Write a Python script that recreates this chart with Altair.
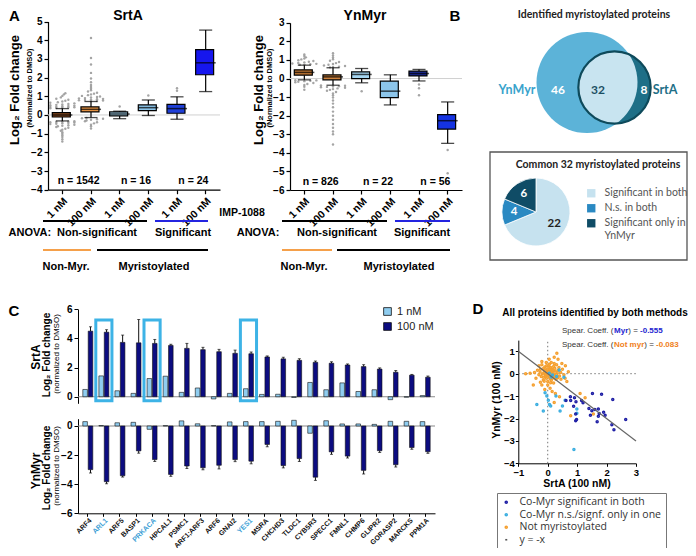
import math
import altair as alt
import numpy as np
import pandas as pd

W, H = 680, 540


def P(v):
    # page pixel -> plot pixel (8px page margin, zero padding)
    return float(v) - 8.0


ARIAL = "Liberation Sans"
CALIB = "Lato"
OPENS = "Open Sans"
ONE = alt.Data(values=[{"k": 0}])

# ======================= DATA =======================
# ---- Panel A: box statistics (Log2 fold change, normalised to DMSO)
A_GROUPS = ["nm1|1 nM", "nm100|100 nM", "mn1|1 nM", "mn100|100 nM", "ms1|1 nM", "ms100|100 nM"]

SRTA_Q1 = [-0.11, 0.16, -0.05, 0.23, 0.09, 2.15]
SRTA_MED = [0.00, 0.30, 0.05, 0.39, 0.34, 2.79]
SRTA_Q3 = [0.12, 0.43, 0.16, 0.54, 0.57, 3.49]
SRTA_LO = [-0.32, -0.14, -0.20, -0.03, -0.23, 1.25]
SRTA_HI = [0.34, 0.72, 0.20, 0.80, 0.97, 4.54]
SRTA_N = [1542, 16, 24]
SRTA_OUT_NM1 = [0.36, 0.37, 0.38, 0.40, 0.41, 0.43, 0.44, 0.46, 0.48, 0.50, 0.52, 0.54, 0.56, 0.59,
                0.62, 0.65, 0.68, 0.72, 0.76, 0.81, 0.87, 0.94, 1.02, 1.10, 1.16,
                -0.34, -0.35, -0.36, -0.38, -0.39, -0.41, -0.43, -0.45, -0.47, -0.49, -0.52, -0.55,
                -0.58, -0.61, -0.65, -0.69, -0.74, -0.79, -0.85, -0.92, -1.00, -1.08, -1.18, -1.30, -1.42]
SRTA_OUT_NM100 = [0.74, 0.75, 0.77, 0.78, 0.80, 0.82, 0.84, 0.86, 0.88, 0.90, 0.93, 0.96, 0.99, 1.02,
                  1.06, 1.10, 1.14, 1.19, 1.25, 1.32, 1.40, 1.50, 1.60, 1.75, 1.95, 2.25, 2.70, 3.05, 4.12,
                  -0.16, -0.18, -0.20, -0.23, -0.26, -0.30, -0.34, -0.39, -0.45, -0.52, -0.60, -0.72]
SRTA_OUT_MN1 = [0.45]
SRTA_OUT_MN100 = [1.04]
SRTA_OUT_MS1 = [1.29, 1.43]
SRTA_OUT_MS100 = []

YN_Q1 = [0.18, -0.07, 0.00, -1.03, 0.14, -2.72]
YN_MED = [0.33, 0.09, 0.22, -0.68, 0.27, -2.27]
YN_Q3 = [0.47, 0.20, 0.36, -0.14, 0.40, -1.94]
YN_LO = [-0.07, -0.36, -0.23, -1.42, -0.13, -3.49]
YN_HI = [0.72, 0.58, 0.54, 0.20, 0.49, -1.26]
YN_N = [826, 22, 56]
YN_OUT_NM1 = [0.74, 0.75, 0.77, 0.79, 0.81, 0.84, 0.87, 0.90, 0.94, 0.98, 1.03, 1.08, 1.14, 1.21, 1.30,
              -0.09, -0.10, -0.12, -0.14, -0.17, -0.20, -0.24, -0.29, -0.35, -0.44, -0.60]
YN_OUT_NM100 = [0.60, 0.62, 0.64, 0.67, 0.70, 0.74, 0.78, 0.83, 0.89, 0.96, 1.04, 1.13, 1.24, 1.36,
                -0.38, -0.39, -0.41, -0.43, -0.45, -0.47, -0.50, -0.53, -0.57, -0.61, -0.66, -0.72,
                -0.80, -0.90, -1.02, -1.18, -1.35, -1.55, -1.78, -2.00, -2.22, -2.45, -2.65, -2.85,
                -3.00, -3.55]
YN_OUT_MN1 = [-0.68]
YN_OUT_MN100 = []
YN_OUT_MS1 = [-0.32, -0.52, -0.90]
YN_OUT_MS100 = [-3.85, -5.10]

SRTA_BOX_COLORS = ["#8a4b1f", "#f29a46", "#a6d6f1", "#8cc5ea", "#1f3fd8", "#1616ee"]
YN_BOX_COLORS = ["#c47a36", "#cd823d", "#a6d6f1", "#8cc5ea", "#1b2b9c", "#1533e2"]

# ---- Panel B
VENN_YN_ONLY, VENN_BOTH, VENN_SRTA_ONLY = 46, 32, 8
PIE_CATS = ["Significant in both", "N.s. in both", "Significant only in YnMyr"]
PIE_N = [22, 4, 6]

# ---- Panel C
GENES = ["ARF4", "ARL1", "ARF5", "BASP1", "PRKACA", "HPCAL1", "PSMC1", "ARF1;ARF3", "ARF6", "GNAI2",
         "YES1", "MSRA", "CHCHD3", "TLDC1", "CYB5R3", "SPECC1", "FMNL1", "CHMP6", "GLIPR2", "GORASP2",
         "MARCKS", "PPM1A"]
HIGHLIGHT = ["ARL1", "PRKACA", "YES1"]
DOSES = ["1 nM", "100 nM"]
C_SRTA_1 = [0.50, 1.43, 0.41, 0.23, 1.25, 1.41, 0.30, 0.60, -0.15, 0.23, 0.55, 0.16, 0.17, -0.05,
            0.98, 0.48, 0.95, 0.36, 0.48, -0.20, -0.03, 0.08]
C_SRTA_100 = [4.50, 4.43, 3.73, 3.70, 3.66, 3.52, 3.32, 3.23, 3.09, 2.98, 2.95, 2.73, 2.60, 2.50,
              2.36, 2.30, 2.18, 2.07, 1.90, 1.68, 1.48, 1.34]
C_SRTA_SEM = [0.30, 0.17, 0.50, 1.60, 0.27, 0.08, 0.34, 0.16, 0.16, 0.22, 0.12, 0.07, 0.11, 0.11,
              0.09, 0.10, 0.07, 0.13, 0.08, 0.12, 0.05, 0.08]
C_YN_1 = [0.30, 0.03, 0.22, 0.25, -0.23, 0.02, 0.35, 0.15, 0.02, 0.28, 0.30, 0.30, 0.32, 0.39,
          -0.50, 0.36, 0.14, 0.14, 0.11, 0.32, 0.32, 0.30]
C_YN_100 = [-3.00, -3.83, -3.42, -1.71, -2.31, -3.33, -2.75, -2.87, -2.70, -2.31, -2.42, -1.27,
            -2.72, -2.24, -3.52, -1.78, -2.07, -3.05, -1.70, -2.66, -1.48, -1.77]
C_YN_SEM = [0.23, 0.14, 0.09, 0.16, 0.13, 0.13, 0.17, 0.14, 0.25, 0.14, 0.18, 0.16, 0.16, 0.20,
            0.22, 0.17, 0.13, 0.25, 0.12, 0.16, 0.12, 0.11]

# ---- Panel D (SrtA 100 nM vs YnMyr 100 nM)
D_GROUPS = ["Co-Myr significant in both", "Co-Myr n.s./signf. only in one", "Not myristoylated", "y = -x"]
SIG_PTS = [(1.52, -0.88), (1.83, -0.92), (2.21, -1.15), (0.77, -1.03), (0.91, -1.07), (0.62, -1.20),
           (0.78, -1.20), (0.96, -1.25), (1.15, -1.20), (0.95, -1.80), (0.98, -2.05), (0.95, -2.10),
           (1.40, -1.55), (1.50, -1.65), (1.60, -1.60), (1.72, -1.58), (1.45, -1.85), (1.75, -1.78),
           (1.90, -1.72), (1.95, -1.85), (1.72, -1.90), (1.68, -2.15), (2.18, -2.28), (2.25, -2.50),
           (2.65, -2.05), (1.20, -1.30), (0.88, -1.45)]
NS_PTS = [(-0.37, -1.37), (-0.15, -1.67), (-0.09, -0.85), (-0.03, -1.00), (0.02, -1.18), (0.06, -1.37),
          (0.10, -1.44), (0.28, -1.00), (0.42, -1.67), (0.50, -1.44), (0.55, -0.16), (0.39, 0.16),
          (0.99, -1.58), (0.99, -1.77), (0.89, -3.38), (0.16, -0.06), (0.59, -1.18), (0.05, 0.02),
          (0.30, -0.12), (0.12, -0.15)]
NOTMYR_PTS = [(-0.02, 0.05), (0.03, -0.02), (0.08, 0.10), (-0.08, -0.06), (0.12, -0.08), (0.00, 0.18),
              (-0.12, 0.12), (0.18, 0.04), (0.05, -0.15), (-0.05, -0.20), (0.15, 0.20), (-0.18, 0.00),
              (0.22, -0.12), (0.10, 0.28), (-0.10, 0.30), (0.25, 0.12), (-0.22, -0.12), (0.02, 0.35),
              (0.30, -0.02), (-0.15, -0.28), (0.12, -0.30), (0.20, 0.32), (-0.25, 0.20), (0.35, 0.15),
              (-0.30, -0.05), (0.28, -0.25), (0.00, -0.35), (0.06, 0.42), (-0.20, 0.40), (0.40, -0.10),
              (0.38, 0.28), (-0.08, 0.22), (0.16, -0.20), (-0.03, 0.12), (0.09, -0.05), (0.06, 0.20),
              (-0.14, -0.16), (0.24, 0.24), (0.32, 0.05), (-0.06, -0.10), (0.14, 0.08), (0.00, -0.08),
              (-0.10, 0.05), (0.20, -0.05), (0.04, 0.28), (-0.16, 0.22), (0.10, 0.15), (0.26, -0.15),
              (-0.26, 0.08), (0.08, -0.22), (-0.04, 0.36), (0.18, 0.14), (0.34, -0.18), (-0.12, -0.34),
              (0.44, 0.05), (0.50, 0.20), (0.45, -0.25), (-0.35, 0.15), (-0.40, -0.20), (0.30, 0.40),
              (0.12, 0.50), (-0.05, 0.50), (0.22, 0.45), (0.00, -0.50), (0.20, -0.42), (-0.25, -0.38),
              (0.55, -0.05), (-0.45, 0.05), (0.10, -0.40), (-0.20, -0.50), (0.31, 0.91), (0.22, 0.73),
              (-0.20, 0.54), (0.48, 0.46), (-0.49, -0.50), (-0.75, 0.00), (-0.60, 0.02), (0.59, -0.20),
              (0.70, 0.09), (0.08, -0.65), (0.15, -0.80), (0.22, -1.29), (1.10, -0.88), (1.27, -1.07),
              (1.55, -1.80), (0.78, -1.88), (0.40, -1.03), (0.26, -0.88), (0.35, 0.65), (-0.30, 0.35),
              (0.60, 0.35), (0.65, -0.35), (0.05, 0.65), (-0.10, -0.70)]
SPEAR_MYR, SPEAR_NOTMYR = -0.555, -0.083


# ======================= HELPERS =======================
def txt(s, x, y, size=10, weight="bold", color="black", angle=0, align="center", font=ARIAL,
        baseline="middle"):
    return alt.Chart(ONE).mark_text(
        text=s, fontSize=size, fontWeight=weight, color=color, angle=angle, align=align,
        baseline=baseline, font=font
    ).encode(x=alt.value(P(x)), y=alt.value(P(y)))


def seg(x1, x2, y, color, width=2.0):
    return alt.Chart(ONE).mark_rule(color=color, strokeWidth=width).encode(
        x=alt.value(P(x1)), x2=alt.value(P(x2)), y=alt.value(P(y)))


def beeswarm(values):
    vals = sorted(values)
    out = []
    for i, v in enumerate(vals):
        nb = sum(1 for u in vals if abs(u - v) <= 0.07)
        w = min(1.0, (nb - 1) / 4.0)
        k = (i % 5) - 2
        out.append((v, k / 2.0 * w))
    return out


def box_panel(q1, med, q3, lo, hi, outs, ns, colors, ydom, yticks, ypage, xpage):
    n = len(A_GROUPS)
    pin, pout = 0.3, 0.15
    step = (xpage[1] - xpage[0]) / (n - pin + 2 * pout)
    bw = step * (1 - pin)
    xsc = alt.Scale(domain=A_GROUPS, range=[P(xpage[0]), P(xpage[1])], paddingInner=pin, paddingOuter=pout)
    ysc = alt.Scale(domain=ydom, range=[P(ypage[0]), P(ypage[1])], nice=False, zero=False)
    xax = alt.Axis(orient="bottom", offset=P(ypage[0]) - H, title=None,
                   labelExpr="split(datum.value, '|')[1]", labelAngle=-45, labelFontSize=10.5,
                   labelFontWeight="bold", labelPadding=2, tickSize=4, domainWidth=1.2, tickWidth=1.2,
                   labelOverlap=False)
    yax = alt.Axis(orient="left", offset=-P(xpage[0]), title=None, values=yticks, labelFontSize=10,
                   labelFontWeight="bold", tickSize=4, labelPadding=2, domainWidth=1.2, tickWidth=1.2,
                   labelFlush=False, labelOverlap=False)
    X = alt.X("g:N", scale=xsc, axis=xax)

    def Y(f):
        return alt.Y(f, scale=ysc, axis=yax)

    stats = pd.DataFrame({"g": A_GROUPS, "q1": q1, "med": med, "q3": q3, "lo": lo, "hi": hi})
    base = alt.Chart(stats)
    orows = []
    for gi, vals in enumerate(outs):
        for v, j in beeswarm(vals):
            orows.append({"g": A_GROUPS[gi], "v": v, "j": j})
    odf = pd.DataFrame(orows)

    zero = alt.Chart(ONE).mark_rule(color="#d0d0d0", strokeWidth=1).encode(
        x=alt.value(P(xpage[0])), x2=alt.value(P(xpage[1])), y=alt.Y(datum=0, scale=ysc, axis=yax))
    outl = alt.Chart(odf).mark_circle(size=6, color="#9b9b9b", opacity=0.9).encode(
        x=X, xOffset=alt.XOffset("j:Q", scale=alt.Scale(domain=[-1, 1], range=[-2, bw + 2])), y=Y("v:Q"))
    wl = base.mark_rule(color="black", strokeWidth=1.2).encode(x=X, y=Y("lo:Q"), y2="q1:Q")
    wh = base.mark_rule(color="black", strokeWidth=1.2).encode(x=X, y=Y("q3:Q"), y2="hi:Q")
    cl = base.mark_tick(orient="horizontal", size=bw * 0.65, thickness=1.3, color="black").encode(x=X, y=Y("lo:Q"))
    ch = base.mark_tick(orient="horizontal", size=bw * 0.65, thickness=1.3, color="black").encode(x=X, y=Y("hi:Q"))
    box = base.mark_bar(stroke="black", strokeWidth=1.2).encode(
        x=X, y=Y("q1:Q"), y2="q3:Q",
        color=alt.Color("g:N", scale=alt.Scale(domain=A_GROUPS, range=colors), legend=None))
    md = base.mark_tick(orient="horizontal", size=bw, thickness=1.5, color="black").encode(x=X, y=Y("med:Q"))
    ndf = pd.DataFrame({"g": [A_GROUPS[1], A_GROUPS[3], A_GROUPS[5]], "t": [f"n = {v}" for v in ns]})
    nt = alt.Chart(ndf).mark_text(fontSize=10.5, fontWeight="bold", font=ARIAL, color="black",
                                  dx=-(step / 2) + 2).encode(
        x=X, y=alt.Y(datum=ydom[0] + 0.45, scale=ysc, axis=yax), text="t:N")
    return alt.layer(zero, outl, wl, wh, cl, ch, box, md, nt)


# ======================= PANEL A =======================
panel_a1 = box_panel(SRTA_Q1, SRTA_MED, SRTA_Q3, SRTA_LO, SRTA_HI,
                     [SRTA_OUT_NM1, SRTA_OUT_NM100, SRTA_OUT_MN1, SRTA_OUT_MN100, SRTA_OUT_MS1, SRTA_OUT_MS100],
                     SRTA_N, SRTA_BOX_COLORS, [-4, 5], list(range(-4, 6)), (189.7, 21.5), (48, 220))
panel_a2 = box_panel(YN_Q1, YN_MED, YN_Q3, YN_LO, YN_HI,
                     [YN_OUT_NM1, YN_OUT_NM100, YN_OUT_MN1, YN_OUT_MN100, YN_OUT_MS1, YN_OUT_MS100],
                     YN_N, YN_BOX_COLORS, [-6, 3], list(range(-6, 4)), (190.0, 22.8), (290, 462))

a_texts = [
    txt("A", 9, 8.5, size=15, align="left", baseline="top"),
    txt("SrtA", 128, 9, size=14, baseline="top"),
    txt("YnMyr", 365, 9, size=14, baseline="top"),
    txt("Log₂ Fold change", 15, 90, size=13, angle=270),
    txt("(Normalized to DMSO)", 30, 88, size=7.5, angle=270),
    txt("Log₂ Fold change", 259, 90, size=13, angle=270),
    txt("(Normalized to DMSO)", 270, 88, size=7.5, angle=270),
    txt("IMP-1088", 242, 213, size=10.5),
    seg(43, 147, 221, "black"), seg(155, 208, 221, "#2424e0"),
    seg(282, 387, 221, "black"), seg(395, 450, 221, "#2424e0"),
    txt("ANOVA:", 8.5, 233, size=11, align="left"),
    txt("Non-significant", 97, 233, size=11),
    txt("Significant", 183, 233, size=11),
    txt("ANOVA:", 258, 233, size=11),
    txt("Non-significant", 337, 233, size=11),
    txt("Significant", 422, 233, size=11),
    seg(43, 91, 250, "#f5a04a"), seg(97, 208, 250, "black"),
    seg(282, 332, 250, "#f5a04a"), seg(337, 450, 250, "black"),
    txt("Non-Myr.", 66, 267, size=11),
    txt("Myristoylated", 154, 267, size=11),
    txt("Non-Myr.", 304, 267, size=11),
    txt("Myristoylated", 399, 267, size=11),
]

# ======================= PANEL B =======================
N_YN = VENN_YN_ONLY + VENN_BOTH
N_SR = VENN_SRTA_ONLY + VENN_BOTH
R_BIG = 50.5
rad_sc = alt.Scale(type="sqrt", domain=[0, N_YN], range=[0, R_BIG])


def rpx(n):
    return R_BIG * math.sqrt(n / N_YN)


CB = (587.0, 82.5)   # YnMyr circle centre (page px, layout)
CS = (614.5, 87.5)   # SrtA circle centre (page px, layout)
Rb, Rs = rpx(N_YN), rpx(N_SR)
ddx, ddy = CS[0] - CB[0], CS[1] - CB[1]
dd = math.hypot(ddx, ddy)
aa = (dd * dd + Rb * Rb - Rs * Rs) / (2 * dd)
hh = math.sqrt(max(Rb * Rb - aa * aa, 0))
ux, uy = ddx / dd, ddy / dd
mx, my = CB[0] + aa * ux, CB[1] + aa * uy
PT1 = (mx - hh * uy, my + hh * ux)
PT2 = (mx + hh * uy, my - hh * ux)
TAU = 2 * math.pi


def ang(c, p):
    return math.atan2(p[0] - c[0], -(p[1] - c[1])) % TAU


def sector(c, p, q, toward):
    a1, a2 = ang(c, p), ang(c, q)
    td = ang(c, toward)
    if (td - a1) % TAU <= (a2 - a1) % TAU:
        return a1, a1 + (a2 - a1) % TAU
    return a2, a2 + (a1 - a2) % TAU


s_small = sector(CS, PT1, PT2, CB)
s_big = sector(CB, PT1, PT2, CS)


def venn_arc(n, t1, t2, c, **mk):
    df = pd.DataFrame({"n": [n], "t1": [t1], "t2": [t2]})
    return alt.Chart(df).mark_arc(**mk).encode(
        theta=alt.Theta("t1:Q", scale=None, stack=False), theta2="t2:Q",
        radius=alt.Radius("n:Q", scale=rad_sc),
        x=alt.value(P(c[0])), y=alt.value(P(c[1])))


C_BIG, C_DARK, C_LIGHT, C_EDGE = "#5cb3d8", "#1e6f87", "#c8e4f0", "#0e4a5b"
venn = alt.layer(
    venn_arc(N_YN, 0, TAU, CB, color=C_BIG),
    venn_arc(N_SR, 0, TAU, CS, color=C_DARK),
    venn_arc(N_SR, s_small[0], s_small[1], CS, color=C_LIGHT),
    venn_arc(N_YN, s_big[0], s_big[1], CB, color=C_LIGHT),
    venn_arc(N_SR, 0, TAU, CS, fillOpacity=0, stroke=C_EDGE, strokeWidth=2.2),
)

pie_df = pd.DataFrame({"cat": PIE_CATS, "n": PIE_N, "o": list(range(len(PIE_CATS)))})
PIE_C = (536, 212)
pie_leg = alt.Legend(title=None, orient="none", legendX=P(586), legendY=P(188), symbolType="square",
                     symbolSize=70, labelFont=CALIB, labelFontSize=10.5, labelColor="#555",
                     rowPadding=4, padding=0, labelOffset=8, symbolStrokeWidth=0,
                     labelExpr="datum.label == 'Significant only in YnMyr' ? ['Significant only in', 'YnMyr'] : datum.label")
pie = alt.layer(
    alt.Chart(pie_df).mark_arc(stroke="white", strokeWidth=0.8).encode(
        theta=alt.Theta("n:Q", stack=True), order=alt.Order("o:Q"),
        color=alt.Color("cat:N", scale=alt.Scale(domain=PIE_CATS, range=["#c6e2ef", "#2a89c2", "#0f4c66"]),
                        legend=pie_leg),
        x=alt.value(P(PIE_C[0])), y=alt.value(P(PIE_C[1])), radius=alt.value(34)),
    alt.Chart(pie_df).mark_text(radius=22, fontSize=11.5, fontWeight="bold", font=CALIB).encode(
        theta=alt.Theta("n:Q", stack=True), order=alt.Order("o:Q"), text="n:Q",
        color=alt.condition("datum.n > 10", alt.value("#222"), alt.value("white")),
        x=alt.value(P(PIE_C[0])), y=alt.value(P(PIE_C[1]))),
)

b_texts = [
    txt("B", 455, 8.5, size=15, baseline="top"),
    txt("Identified myristoylated proteins", 594, 15, size=10.5, font=CALIB, color="#222"),
    txt("YnMyr", 517, 90, size=12.5, font=CALIB, color="#3aa3cc"),
    txt(str(VENN_YN_ONLY), 558, 90, size=12, font=CALIB, color="white"),
    txt(str(VENN_BOTH), 598, 90, size=12, font=CALIB, color="#1c4f63"),
    txt(str(VENN_SRTA_ONLY), 644, 90, size=12, font=CALIB, color="white"),
    txt("SrtA", 665, 90, size=12.5, font=CALIB, color="#1e6f87"),
    alt.Chart(ONE).mark_rect(fillOpacity=0, stroke="#555", strokeWidth=1.3).encode(
        x=alt.value(P(490)), x2=alt.value(P(687)), y=alt.value(P(152)), y2=alt.value(P(260))),
    txt("Common 32 myristoylated proteins", 598, 165, size=10.5, font=CALIB, color="#222"),
]

# ======================= PANEL C =======================
C_COL = ["#8fcdf0", "#0c0c80"]
hl_test = "indexof([" + ",".join(f"'{g}'" for g in HIGHLIGHT) + "], datum.value) >= 0"


def c_panel(v1, v100, sem, ydom, yticks, ypage, top):
    xsc = alt.Scale(domain=GENES, range=[P(78), P(435)], paddingInner=0.38, paddingOuter=0.3)
    ysc = alt.Scale(domain=ydom, range=[P(ypage[0]), P(ypage[1])], nice=False, zero=False)
    if top:
        xax = None
    else:
        xax = alt.Axis(orient="bottom", offset=P(ypage[0]) - H, title=None, labelAngle=-45, labelFontSize=7,
                       labelFontWeight="bold", tickSize=3, labelPadding=0, labelOverlap=False,
                       labelColor={"condition": {"test": hl_test, "value": "#3d9fd6"}, "value": "#111"})
    yax = alt.Axis(orient="left", offset=-P(78), title=None, values=yticks, labelFontSize=10,
                   labelFontWeight="bold", tickSize=4, labelPadding=2, labelFlush=False, labelOverlap=False)
    X = alt.X("gene:N", scale=xsc, axis=xax)
    XO = alt.XOffset("dose:N", scale=alt.Scale(domain=DOSES, paddingInner=0.15))

    def Y(f):
        return alt.Y(f, scale=ysc, axis=yax)

    df = pd.DataFrame({"gene": GENES * 2, "dose": [DOSES[0]] * len(GENES) + [DOSES[1]] * len(GENES),
                       "val": list(v1) + list(v100)})
    edf = pd.DataFrame({"gene": GENES, "dose": DOSES[1], "val": v100, "sem": sem})
    sign = "+" if top else "-"
    leg = alt.Legend(title=None, orient="none", legendX=P(382), legendY=P(306), symbolType="square",
                     symbolSize=60, symbolStrokeColor="#111", symbolStrokeWidth=0.8, labelFont=ARIAL,
                     labelFontSize=11, labelColor="#222", rowPadding=3, padding=0, labelOffset=4)
    zero = alt.Chart(ONE).mark_rule(color="#8a8a8a", strokeWidth=1.2).encode(
        x=alt.value(P(78)), x2=alt.value(P(435)), y=alt.Y(datum=0, scale=ysc, axis=yax))
    bars = alt.Chart(df).mark_bar(stroke="#111", strokeWidth=0.6).encode(
        x=X, xOffset=XO, y=Y("val:Q"),
        color=alt.Color("dose:N", scale=alt.Scale(domain=DOSES, range=C_COL), legend=leg if top else None))
    eb = alt.Chart(edf).transform_calculate(e2=f"datum.val {sign} datum.sem").mark_rule(
        color="#111", strokeWidth=1).encode(x=X, xOffset=XO, y=Y("val:Q"), y2="e2:Q")
    ec = alt.Chart(edf).transform_calculate(e2=f"datum.val {sign} datum.sem").mark_tick(
        orient="horizontal", size=3, thickness=1, color="#111").encode(x=X, xOffset=XO, y=Y("e2:Q"))
    layers = [zero, eb, ec, bars]
    if top:
        hl = alt.Chart(pd.DataFrame({"gene": HIGHLIGHT})).mark_bar(
            fillOpacity=0, stroke="#3db3e6", strokeWidth=3, width={"band": 1.62}).encode(
            x=X, y=alt.Y(datum=5.26, scale=ysc, axis=yax), y2=alt.Y2(datum=-0.27))
        layers.append(hl)
    return alt.layer(*layers)


c_top = c_panel(C_SRTA_1, C_SRTA_100, C_SRTA_SEM, [-0.45, 6], [0, 2, 4, 6], (403.3, 309.3), True)
c_bot = c_panel(C_YN_1, C_YN_100, C_YN_SEM, [-6, 0.5], [0, -2, -4, -6], (513.3, 418.7), False)

c_texts = [
    txt("C", 8.5, 311, size=15, align="left"),
    txt("SrtA", 36, 357, size=12, angle=270),
    txt("Log₂ Fold change", 46.5, 355, size=10, angle=270),
    txt("(normalized to DMSO)", 57, 354, size=8, weight="normal", angle=270),
    txt("YnMyr", 36, 471, size=12, angle=270),
    txt("Log₂ Fold change", 46.5, 468, size=10, angle=270),
    txt("(normalized to DMSO)", 57, 466, size=8, weight="normal", angle=270),
]

# ======================= PANEL D =======================
dx_sc = alt.Scale(domain=[-1, 3], range=[P(518.3), P(636.0)], nice=False, zero=False)
dy_sc = alt.Scale(domain=[-4, 1.5], range=[P(463.3), P(340.1)], nice=False, zero=False)
dxax = alt.Axis(orient="bottom", offset=P(463.3) - H, values=[-1, 0, 1, 2, 3], title=None, labelFontSize=9.5,
                labelFontWeight="bold", tickSize=3, labelFlush=False, labelPadding=1, labelOverlap=False)
dyax = alt.Axis(orient="left", offset=-P(518.3), values=[1, 0, -1, -2, -3, -4], title=None, labelFontSize=9.5,
                labelFontWeight="bold", tickSize=3, labelFlush=False, labelPadding=1, labelOverlap=False)

rows = []
for (x, y) in NOTMYR_PTS:
    rows.append({"x": x, "y": y, "grp": D_GROUPS[2]})
for (x, y) in NS_PTS:
    rows.append({"x": x, "y": y, "grp": D_GROUPS[1]})
for (x, y) in SIG_PTS:
    rows.append({"x": x, "y": y, "grp": D_GROUPS[0]})
ddf = pd.DataFrame(rows)

d_leg = alt.Legend(title=None, orient="none", legendX=P(497), legendY=P(493), strokeColor="#777",
                   fillColor="white", padding=4, labelFont=OPENS, labelFontSize=10.5, labelColor="#333",
                   rowPadding=1.5, symbolStrokeWidth=1.6, labelOffset=8)
d_col = alt.Scale(domain=D_GROUPS, range=["#1f1fa5", "#3aaee0", "#f5a030", "#555555"])
d_shape = alt.Scale(domain=D_GROUPS, range=["circle", "circle", "circle", "stroke"])
d_size = alt.Scale(domain=D_GROUPS, range=[4, 4, 4, 110])

d_panel = alt.layer(
    alt.Chart(ONE).mark_rule(color="#777", strokeDash=[1.5, 2.5], strokeWidth=1).encode(
        x=alt.X(datum=0, scale=dx_sc, axis=dxax), y=alt.Y(datum=-4, scale=dy_sc, axis=dyax), y2=alt.Y2(datum=1.5)),
    alt.Chart(ONE).mark_rule(color="#777", strokeDash=[1.5, 2.5], strokeWidth=1).encode(
        y=alt.Y(datum=0, scale=dy_sc, axis=dyax), x=alt.X(datum=-1, scale=dx_sc, axis=dxax), x2=alt.X2(datum=3)),
    alt.Chart(ddf).mark_point(filled=False, strokeWidth=1.5, opacity=1).encode(
        x=alt.X("x:Q", scale=dx_sc, axis=dxax), y=alt.Y("y:Q", scale=dy_sc, axis=dyax),
        color=alt.Color("grp:N", scale=d_col, legend=d_leg),
        shape=alt.Shape("grp:N", scale=d_shape, legend=d_leg),
        size=alt.Size("grp:N", scale=d_size, legend=d_leg)),
    alt.Chart(pd.DataFrame({"x": [-1, 3]})).transform_calculate(y="-datum.x").mark_line(
        color="#666", strokeWidth=1.2).encode(
        x=alt.X("x:Q", scale=dx_sc, axis=dxax), y=alt.Y("y:Q", scale=dy_sc, axis=dyax)),
)

SP = 8.0
AR = {' ': 278, '(': 333, ')': 333, '.': 278, '=': 584, '-': 333, 'S': 667, 'p': 556, 'e': 556, 'a': 556,
      'r': 333, 'C': 722, 'o': 556, 'f': 278}
AB = {' ': 278, '(': 333, ')': 333, '.': 278, '=': 584, '-': 333, 'M': 833, 'y': 556, 'r': 389, 'N': 722,
      'o': 611, 't': 333, 'm': 889}


def tw(s, bold):
    tab = AB if bold else AR
    return sum(tab.get(c, 556) for c in s) / 1000.0 * SP


def spear_line(y, word, val, color):
    parts = [("Spear. Coeff. (", False, "#333"), (word, True, color), (") = ", False, "#333"),
             (f"{val:.3f}", True, color)]
    x = 562.0
    out = []
    for s, b, c in parts:
        out.append(txt(s, x, y, size=SP, weight="bold" if b else "normal", color=c, align="left"))
        x += tw(s, b)
    return out


d_texts = [
    txt("D", 478, 309, size=15),
    txt("All proteins identified by both methods", 595, 313, size=10),
    *spear_line(331, "Myr", SPEAR_MYR, "#2424d0"),
    *spear_line(345, "Not myr", SPEAR_NOTMYR, "#f08020"),
    txt("SrtA (100 nM)", 577, 484, size=10.5),
    txt("YnMyr (100 nM)", 497, 400, size=10.5, angle=270),
]

# ======================= COMPOSE =======================
chart = alt.layer(
    panel_a1, panel_a2, *a_texts,
    venn, pie, *b_texts,
    c_top, c_bot, *c_texts,
    d_panel, *d_texts,
).properties(
    width=W, height=H, padding=0, autosize=alt.AutoSizeParams(type="none")
).resolve_scale(
    x="independent", y="independent", color="independent", xOffset="independent",
    theta="independent", radius="independent", shape="independent", size="independent"
).resolve_axis(
    x="independent", y="independent"
).resolve_legend(
    color="independent", shape="independent", size="independent"
).configure_view(
    strokeWidth=0
).configure_axis(
    grid=False, labelFont=ARIAL, labelColor="black", domainColor="black", tickColor="black"
)

chart.save("out.html", embed_options={"renderer": "svg", "actions": False})
